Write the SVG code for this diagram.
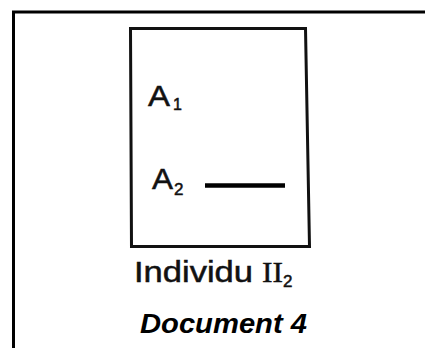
<svg xmlns="http://www.w3.org/2000/svg" width="425" height="348" viewBox="0 0 425 348">
  <style>
    .frame { fill: none; stroke: #000; stroke-width: 3; }
    .box { fill: none; stroke: #111; stroke-width: 3; }
    .lbl { font-family: "Liberation Sans", Arial, sans-serif; fill: #111; stroke: #111; stroke-width: 0.5; }
    .rom { font-family: "Liberation Serif", "Times New Roman", serif; fill: #111; stroke: #111; stroke-width: 0.4; }
    .title { font-family: "Liberation Sans", Arial, sans-serif; font-weight: bold; font-style: italic; fill: #000; }
  </style>
  <rect width="425" height="348" fill="#fff"/>
  <g id="frame">
    <rect class="frame" x="13.5" y="12" width="430" height="360"/>
  </g>
  <g id="individu">
    <polygon class="box" points="130.5,28.5 305.5,28.5 309.5,246.5 131.5,246.5"/>
    <g id="a1">
      <text class="lbl" x="148" y="106" font-size="29" textLength="22" lengthAdjust="spacingAndGlyphs">A</text>
      <text class="lbl" x="173" y="110" font-size="16">1</text>
    </g>
    <g id="a2">
      <text class="lbl" x="152" y="189" font-size="29" textLength="21" lengthAdjust="spacingAndGlyphs">A</text>
      <text class="lbl" x="174" y="195" font-size="17">2</text>
      <line x1="205" y1="185.5" x2="285" y2="185.5" stroke="#000" stroke-width="4.5"/>
    </g>
  </g>
  <g id="caption">
    <text class="lbl" x="134" y="281.5" font-size="29" textLength="119" lengthAdjust="spacingAndGlyphs">Individu</text>
    <text class="rom" x="262" y="281.5" font-size="29" textLength="21" lengthAdjust="spacingAndGlyphs">II</text>
    <text class="lbl" x="283" y="287" font-size="17">2</text>
  </g>
  <g id="title">
    <text class="title" x="140" y="333" font-size="28" textLength="167" lengthAdjust="spacingAndGlyphs">Document 4</text>
  </g>
</svg>
